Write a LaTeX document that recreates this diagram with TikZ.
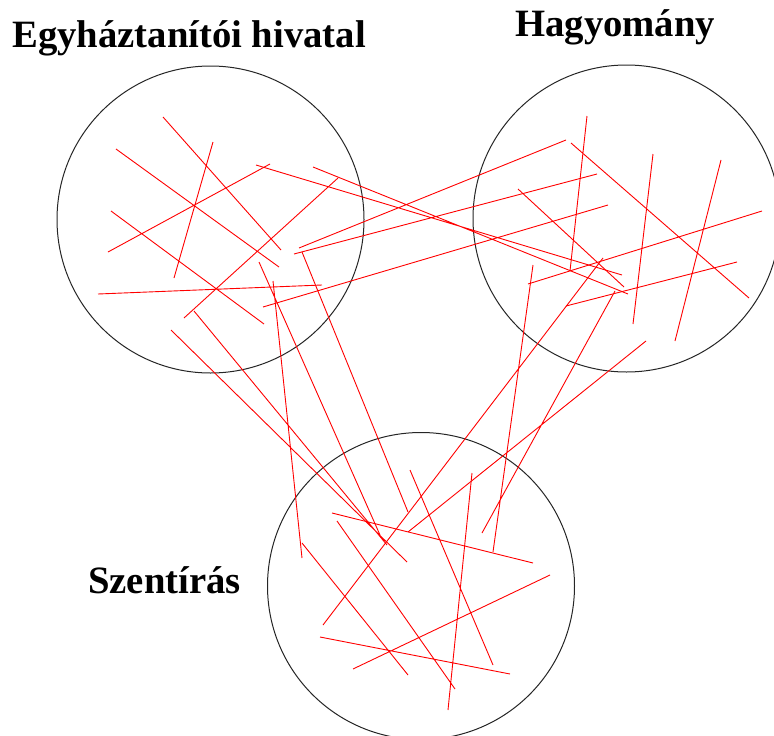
\documentclass[tikz,border=0pt]{standalone}
\usepackage{fontspec}
\setmainfont{Liberation Serif}

\begin{document}
\begin{tikzpicture}[
    x=1pt, y=-1pt,
    ring/.style={draw=black!85, circle, line width=1pt, minimum size=307pt, inner sep=0pt},
    title/.style={font=\fontsize{38.7}{40}\selectfont\bfseries, inner sep=0pt, anchor=base west},
    stroke/.style={red, line width=0.9pt}
]
  \useasboundingbox (0,0) rectangle (774,736);

  % Circles
  \node[ring] (magist) at (210.5,219.5) {};
  \node[ring] (trad) at (626.5,218.5) {};
  \node[ring] (script) at (421,586) {};

  % Labels
  \node[title] (magistlabel) at (12,47) {Egyháztanítói hivatal};
  \node[title] (tradlabel) at (515,36) {Hagyomány};
  \node[title] (scriptlabel) at (88,593) {Szentírás};

  % Strokes inside the left circle
  \draw[stroke] (163,117) -- (281,250)  (213,142) -- (174,278)
                (116,149) -- (279,267)  (111,211) -- (264,324)
                (108,252) -- (270,164)  (98,294) -- (322,285)
                (338,178) -- (184,318);

  % Left circle to right circle
  \draw[stroke] (256,165) -- (622,275)  (313,167) -- (628,294)
                (263,307) -- (608,205)  (299,248) -- (566,140)
                (294,254) -- (597,174);

  % Left circle to bottom circle
  \draw[stroke] (302,252) -- (408,512)  (273,281) -- (302,558)
                (259,262) -- (380,535)  (171,330) -- (407,562)
                (194,311) -- (387,545);

  % Strokes inside the right circle
  \draw[stroke] (587,116) -- (570,271)  (653,154) -- (633,324)
                (721,160) -- (675,341)  (571,143) -- (749,298)
                (518,189) -- (624,287)  (528,284) -- (762,211)
                (566,306) -- (737,262);

  % Right circle to bottom circle
  \draw[stroke] (603,258) -- (323,625)  (646,341) -- (408,532)
                (615,291) -- (482,533)  (533,265) -- (493,552);

  % Strokes inside the bottom circle
  \draw[stroke] (410,470) -- (493,665)  (472,473) -- (448,710)
                (332,513) -- (533,563)  (337,521) -- (455,689)
                (302,543) -- (408,675)  (320,637) -- (510,674)
                (353,669) -- (550,575);
\end{tikzpicture}
\end{document}
